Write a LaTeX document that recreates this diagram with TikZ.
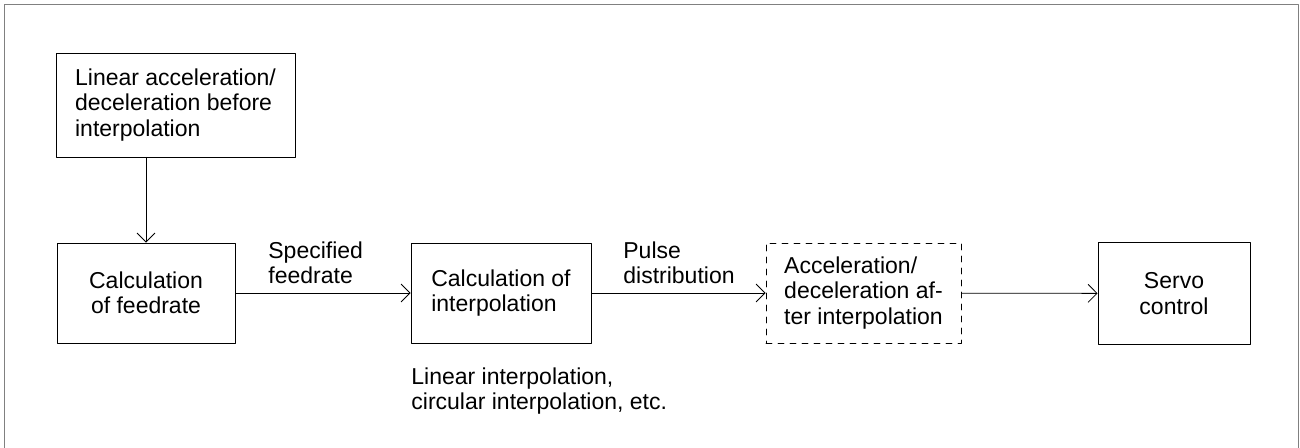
\documentclass[tikz,border=0pt]{standalone}
\usepackage{fontspec}
\setmainfont{Liberation Sans}
\usetikzlibrary{arrows.meta,positioning}

\tikzset{
  block/.style={draw, rectangle, align=center, inner sep=0pt, minimum height=50pt},
  flow/.style={-{Straight Barb[length=4.5pt,width=9pt]}},
  lbl/.style={align=left, inner sep=0pt}
}

\begin{document}
\begin{tikzpicture}[line cap=round,line join=round,x=0.5pt,y=-0.5pt,font=\fontsize{11.5}{12.6}\selectfont]
				\useasboundingbox (0,0) rectangle (1300,448);
				% frame
				\draw[gray] (4,460)--(4,4)--(1298,4)--(1298,460);
				% top
				\node[block, align=left, minimum width=119.5pt, minimum height=52pt] (pre) at (175.5,105) {Linear acceleration/\\deceleration before\\interpolation};
				% row
				\node[block, minimum width=89pt] (feed) at (146,293) {Calculation\\of feedrate};
				\node[block, align=left, minimum width=90pt] (interp) at (501,293) {Calculation of\\interpolation};
				\node[block, align=left, dashed, minimum width=97.5pt] (post) at (863.5,293) {Acceleration/\\deceleration af-\\ter interpolation};
				\node[block, minimum width=76pt, minimum height=51pt] (servo) at (1174,293.5) {Servo\\control};
				% arrows
				\draw[flow] (feed.north |- pre.south)--(feed.north);
				\draw[flow] (feed)--(interp);
				\draw[flow] (interp)--(post);
				\draw[flow] (post)--(servo);
				% labels
				\node[lbl, anchor=south west] (spec) at (268,284) {Specified\\feedrate};
				\node[lbl, anchor=south west] (pulse) at (623,284) {Pulse\\distribution};
				\node[lbl, anchor=north west] (kind) at (411,367) {Linear interpolation,\\circular interpolation, etc.};
		\end{tikzpicture}
\end{document}
